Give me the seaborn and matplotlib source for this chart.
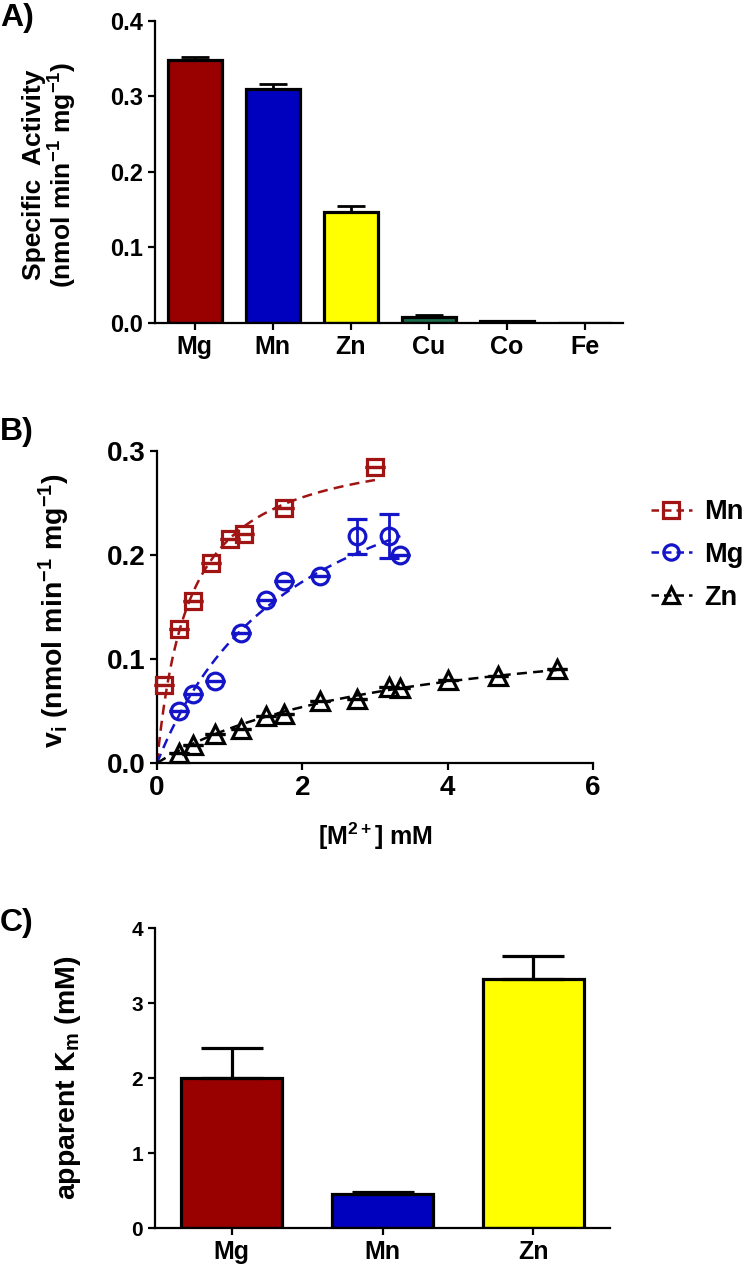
import numpy as np
import pandas as pd
import matplotlib.pyplot as plt
import seaborn as sns
from matplotlib.lines import Line2D

# --- Panel A: specific activity with each divalent metal ---
metals_a = ['Mg', 'Mn', 'Zn', 'Cu', 'Co', 'Fe']
activity_a = [0.349, 0.310, 0.147, 0.008, 0.003, 0.0]
activity_err_a = [0.003, 0.006, 0.008, 0.002, 0.0, 0.0]
colors_a = ['#990000', '#0000bf', '#ffff00', '#1b6b4b', '#222222', '#222222']

# --- Panel B: initial velocity vs metal concentration ---
mn_conc = [0.1, 0.3, 0.5, 0.75, 1.0, 1.2, 1.75, 3.0]
mn_vi = [0.075, 0.129, 0.156, 0.192, 0.215, 0.220, 0.245, 0.285]
mn_err = [0, 0, 0, 0, 0, 0, 0, 0]

mg_conc = [0.3, 0.5, 0.8, 1.15, 1.5, 1.75, 2.25, 2.75, 3.2, 3.35]
mg_vi = [0.050, 0.066, 0.079, 0.125, 0.157, 0.175, 0.180, 0.218, 0.218, 0.200]
mg_err = [0, 0, 0, 0, 0, 0, 0, 0.017, 0.021, 0]

zn_conc = [0.3, 0.5, 0.8, 1.15, 1.5, 1.75, 2.25, 2.75, 3.2, 3.35, 4.0, 4.7, 5.5]
zn_vi = [0.010, 0.017, 0.028, 0.033, 0.045, 0.047, 0.060, 0.062, 0.073, 0.072, 0.080, 0.084, 0.090]
zn_err = [0] * 13

# --- Panel C: apparent Km ---
metals_c = ['Mg', 'Mn', 'Zn']
km_c = [2.00, 0.45, 3.32]
km_err_c = [0.40, 0.03, 0.31]
colors_c = ['#990000', '#0000bf', '#ffff00']

sns.set_theme(style='ticks')
plt.rcParams.update({
    'font.family': ['Liberation Sans', 'DejaVu Sans'],
    'font.weight': 'bold',
    'axes.labelweight': 'bold',
    'text.color': 'black',
    'axes.labelcolor': 'black',
    'mathtext.fontset': 'custom',
    'mathtext.rm': 'Liberation Sans:bold',
    'mathtext.it': 'Liberation Sans:bold',
    'mathtext.bf': 'Liberation Sans:bold',
    'mathtext.default': 'rm',
    'axes.linewidth': 1.6,
    'xtick.major.width': 1.6,
    'ytick.major.width': 1.6,
    'xtick.major.size': 5,
    'ytick.major.size': 5,
    'xtick.color': 'black',
    'ytick.color': 'black',
    'xtick.labelcolor': 'black',
    'ytick.labelcolor': 'black',
    'axes.edgecolor': 'black',
})

fig = plt.figure(figsize=(7.5, 12.73), dpi=100)
ax_a = fig.add_axes([0.2067, 0.7463, 0.624, 0.2372])
ax_b = fig.add_axes([0.2093, 0.4006, 0.5813, 0.2451])
ax_c = fig.add_axes([0.2067, 0.0353, 0.6067, 0.2357])


def bar_panel(ax, cats, vals, errs, colors, width):
    df = pd.DataFrame({'metal': cats, 'value': vals})
    sns.barplot(data=df, x='metal', y='value', hue='metal', palette=colors,
                dodge=False, legend=False, width=width, saturation=1,
                edgecolor='black', linewidth=2.3, ax=ax)
    pos = np.arange(len(cats))
    errs = np.asarray(errs)
    keep = errs > 0
    return pos, keep


# Panel A
pos, keep = bar_panel(ax_a, metals_a, activity_a, activity_err_a, colors_a, 0.7)
ax_a.errorbar(pos[keep], np.asarray(activity_a)[keep],
              yerr=[np.zeros(keep.sum()), np.asarray(activity_err_a)[keep]],
              fmt='none', ecolor='black', elinewidth=2, capsize=10, capthick=2, zorder=1)
ax_a.set_ylim(0, 0.4)
ax_a.set_xlim(-0.51, 5.49)
ax_a.set_yticks([0.0, 0.1, 0.2, 0.3, 0.4])
ax_a.set_yticklabels(['0.0', '0.1', '0.2', '0.3', '0.4'])
ax_a.set_xlabel('')
ax_a.set_ylabel('Specific  Activity\n(nmol min$^{-1}$ mg$^{-1}$)', fontsize=19, linespacing=1.05)
ax_a.yaxis.set_label_coords(-0.162, 0.49)
ax_a.tick_params(axis='y', labelsize=17)
ax_a.tick_params(axis='x', labelsize=18)
sns.despine(ax=ax_a)

# Panel B
series = [
    ('Mn', mn_conc, mn_vi, mn_err, 's', '#a01414', 12),
    ('Mg', mg_conc, mg_vi, mg_err, 'o', '#1414c8', 12),
    ('Zn', zn_conc, zn_vi, zn_err, '^', 'black', 13),
]
handles = []
for name, conc, vi, err, mk, col, ms in series:
    conc = np.asarray(conc)
    vi = np.asarray(vi)
    # Michaelis-Menten curve using the Km from panel C, Vmax by least squares
    km = km_c[metals_c.index(name)]
    f = conc / (km + conc)
    vmax = np.sum(vi * f) / np.sum(f * f)
    xs = np.linspace(0, conc.max(), 200)
    fit = pd.DataFrame({'x': xs, 'y': vmax * xs / (km + xs)})
    sns.lineplot(data=fit, x='x', y='y', color=col, linewidth=1.8,
                 dashes=False, ax=ax_b, linestyle=(0, (4, 2.5)))
    ax_b.errorbar(conc, vi, yerr=err, fmt=mk, mfc='none', mec=col, mew=2.3,
                  ms=ms, ecolor=col, elinewidth=2, capsize=7, capthick=2,
                  clip_on=False, zorder=3)
    handles.append(Line2D([], [], color=col, linestyle=(0, (3, 2)), linewidth=1.8,
                          marker=mk, mfc='none', mec=col, mew=2.3, ms=ms - 1,
                          label=name))
ax_b.set_xlim(0, 6)
ax_b.set_ylim(0, 0.3)
ax_b.set_xticks([0, 2, 4, 6])
ax_b.set_yticks([0.0, 0.1, 0.2, 0.3])
ax_b.set_yticklabels(['0.0', '0.1', '0.2', '0.3'])
ax_b.tick_params(labelsize=20)
ax_b.set_xlabel('[M$^{2+}$] mM', fontsize=18, labelpad=14)
ax_b.set_ylabel('v$_i$ (nmol min$^{-1}$ mg$^{-1}$)', fontsize=20.5)
ax_b.yaxis.set_label_coords(-0.195, 0.49)
sns.despine(ax=ax_b)
fig.legend(handles=handles, loc='upper left', bbox_to_anchor=(0.868, 0.608),
           frameon=False, fontsize=19.5, handlelength=1.5, handletextpad=0.45,
           labelspacing=0.62, borderpad=0, borderaxespad=0)

# Panel C
pos, keep = bar_panel(ax_c, metals_c, km_c, km_err_c, colors_c, 0.67)
ax_c.errorbar(pos[keep], np.asarray(km_c)[keep],
              yerr=[np.zeros(keep.sum()), np.asarray(km_err_c)[keep]],
              fmt='none', ecolor='black', elinewidth=2.3, capsize=22, capthick=2.3, zorder=1)
ax_c.set_ylim(0, 4)
ax_c.set_xlim(-0.51, 2.51)
ax_c.set_yticks([0, 1, 2, 3, 4])
ax_c.set_xlabel('')
ax_c.set_ylabel('apparent K$_m$ (mM)', fontsize=20.5)
ax_c.yaxis.set_label_coords(-0.158, 0.5)
ax_c.tick_params(axis='y', labelsize=15)
ax_c.tick_params(axis='x', labelsize=18)
sns.despine(ax=ax_c)

# Panel letters
fig.text(0.0, 1 - 18 / 1273, 'A)', fontsize=23, fontweight='bold', va='center')
fig.text(0.0, 1 - 432 / 1273, 'B)', fontsize=23, fontweight='bold', va='center')
fig.text(0.0, 1 - 923 / 1273, 'C)', fontsize=23, fontweight='bold', va='center')

fig.savefig('out.png', dpi=100)
